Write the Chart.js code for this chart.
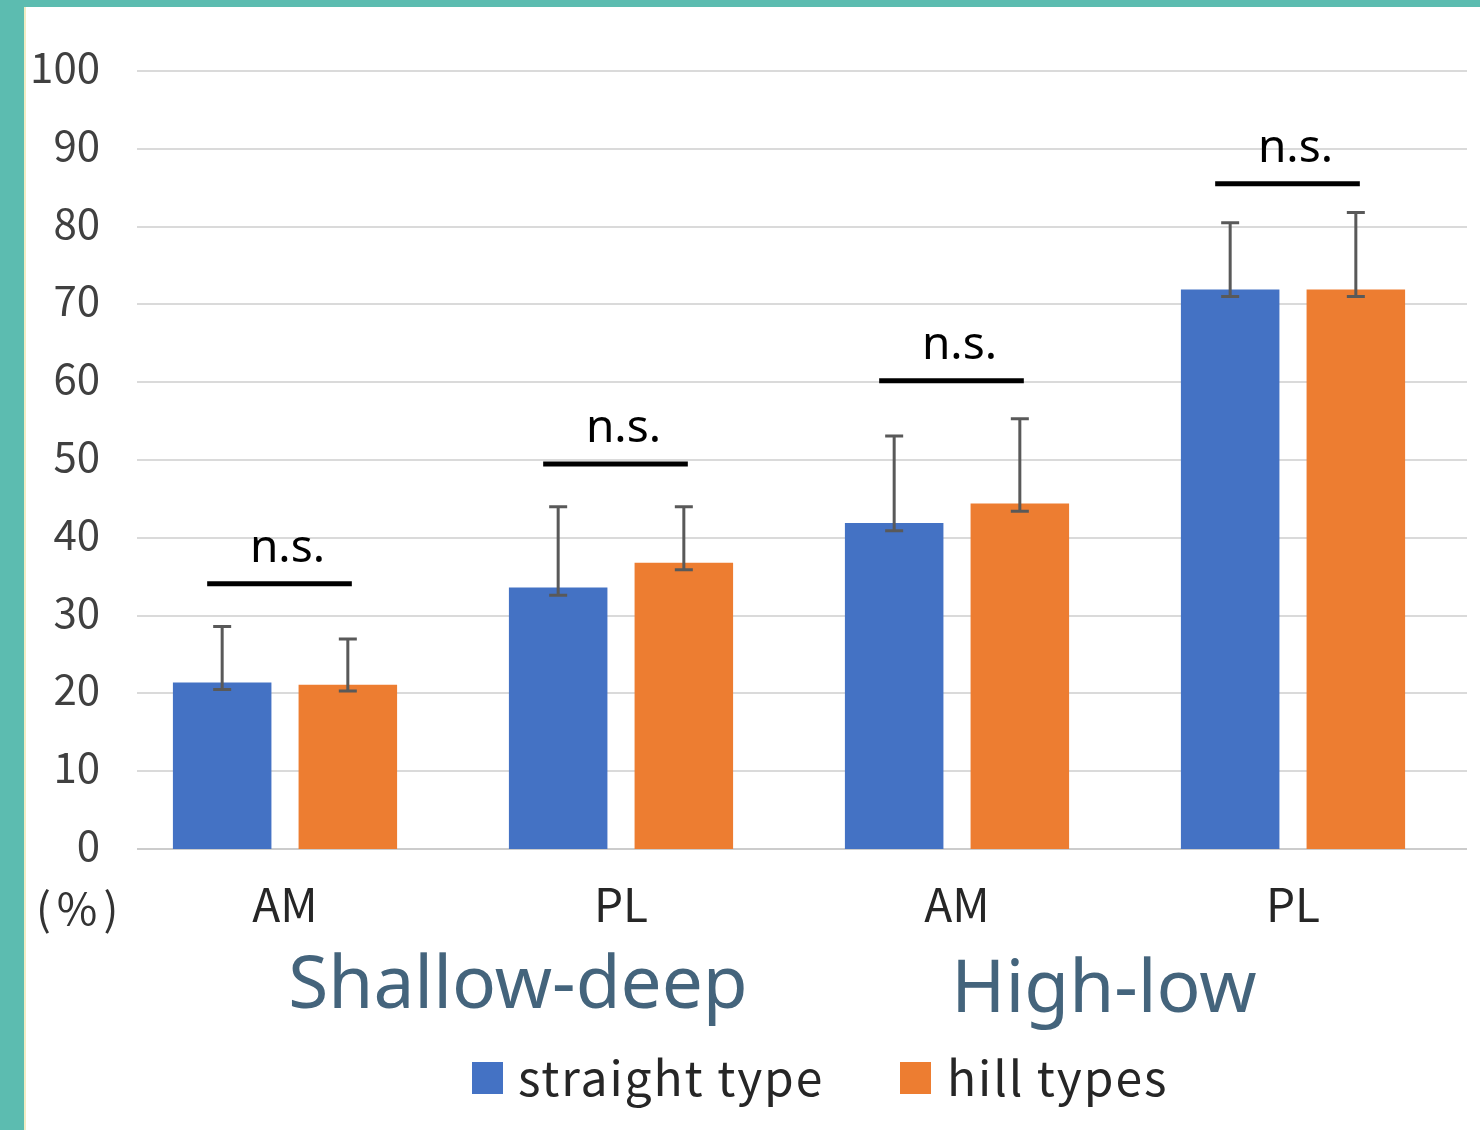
<!DOCTYPE html>
<html>
<head>
<meta charset="utf-8">
<script src="https://cdn.jsdelivr.net/npm/chart.js@4.4.1/dist/chart.umd.min.js"></script>
<style>
body{margin:0;width:1480px;height:1130px;background:#5cbcb0;position:relative;overflow:hidden;font-family:"Noto Sans CJK JP","Noto Sans",sans-serif;}
#panel{position:absolute;left:24px;top:7px;right:0;bottom:0;background:#fff;border-left:2px solid #f1ecc4;}
#wrap{position:absolute;left:0;top:0;width:1480px;height:1130px;}
.lbl{position:absolute;white-space:nowrap;line-height:1;}
.grp{font-family:"Noto Sans",sans-serif;font-size:73px;color:#44647c;transform:translateX(-50%);}
.leg{font-size:48px;color:#262626;letter-spacing:1.9px;}
.sw{position:absolute;width:31px;height:32px;}
</style>
</head>
<body>
<div id="panel"></div>
<div id="wrap"><canvas id="chart" width="1480" height="1130"></canvas></div>
<div class="lbl" style="left:36px;top:884px;font-size:44px;color:#333;letter-spacing:6px;">(%)</div>
<div class="lbl grp" style="left:518px;top:943px;">Shallow-deep</div>
<div class="lbl grp" style="left:1104px;top:947px;">High-low</div>
<div class="sw" style="left:472px;top:1062px;background:#4472c4;"></div>
<div class="lbl leg" style="left:518px;top:1051px;">straight type</div>
<div class="sw" style="left:900px;top:1062px;background:#ed7d31;"></div>
<div class="lbl leg" style="left:947px;top:1051px;">hill types</div>
<script>
// data
let categories = ["AM", "PL", "AM", "PL"];
let straightValues = [21.4, 33.6, 41.9, 71.9];
let straightErrUp = [7.2, 10.4, 11.2, 8.6];
let straightErrDown = [0.9, 1.0, 1.0, 0.9];
let hillValues = [21.1, 36.8, 44.4, 71.9];
let hillErrUp = [5.9, 7.2, 10.9, 9.9];
let hillErrDown = [0.8, 0.9, 1.0, 0.9];
let sigLevels = [34.1, 49.5, 60.2, 85.5];
let sigLabels = ["n.s.", "n.s.", "n.s.", "n.s."];
let yTicks = [0, 10, 20, 30, 40, 50, 60, 70, 80, 90, 100];

// grey gridlines, starting a bit right of the axis
let gridPlugin = {
id: "gridLines",
beforeDatasetsDraw: function(chart){
let ctx = chart.ctx;
let y = chart.scales.y;
let area = chart.chartArea;
ctx.save();
ctx.lineWidth = 2;
y.ticks.forEach(function(t){
let yy = Math.round(y.getPixelForValue(t.value));
ctx.strokeStyle = t.value === 0 ? "#cccccc" : "#dadada";
ctx.beginPath();
ctx.moveTo(area.left + 20, yy);
ctx.lineTo(area.right + 6, yy);
ctx.stroke();
});
ctx.restore();
}
};

// error bars + n.s. brackets
let errPlugin = {
id: "errBars",
afterDatasetsDraw: function(chart){
let ctx = chart.ctx;
let y = chart.scales.y;
let sets = [
[straightValues, straightErrUp, straightErrDown],
[hillValues, hillErrUp, hillErrDown]
];
ctx.save();
ctx.strokeStyle = "#595959";
ctx.lineWidth = 3;
sets.forEach(function(s, di){
chart.getDatasetMeta(di).data.forEach(function(bar, i){
let top = y.getPixelForValue(s[0][i] + s[1][i]);
let bot = y.getPixelForValue(s[0][i] - s[2][i]);
ctx.beginPath();
ctx.moveTo(bar.x, top); ctx.lineTo(bar.x, bot);
ctx.moveTo(bar.x - 9, top); ctx.lineTo(bar.x + 9, top);
ctx.moveTo(bar.x - 9, bot); ctx.lineTo(bar.x + 9, bot);
ctx.stroke();
});
});

let m0 = chart.getDatasetMeta(0).data;
let m1 = chart.getDatasetMeta(1).data;
ctx.strokeStyle = "#000";
ctx.fillStyle = "#000";
ctx.lineWidth = 5;
ctx.font = '46px "Noto Sans"';
ctx.textAlign = "center";
ctx.textBaseline = "alphabetic";
sigLevels.forEach(function(v, i){
let yy = y.getPixelForValue(v);
let x0 = m0[i].x - 15;
let x1 = m1[i].x + 4;
ctx.beginPath();
ctx.moveTo(x0, yy); ctx.lineTo(x1, yy);
ctx.stroke();
ctx.fillText(sigLabels[i], (x0 + x1) / 2 + 8, yy - 22);
});
ctx.restore();
}
};

new Chart(document.getElementById("chart"), {
type: "bar",
data: {
labels: categories,
datasets: [
{ label: "straight type", data: straightValues, backgroundColor: "#4472c4" },
{ label: "hill types", data: hillValues, backgroundColor: "#ed7d31" }
]
},
options: {
responsive: false,
animation: false,
categoryPercentage: 0.748,
barPercentage: 0.784,
layout: { padding: { left: 0, right: 19, top: 71, bottom: 191 } },
plugins: { legend: { display: false }, tooltip: { enabled: false } },
scales: {
x: {
grid: { display: false, drawTicks: false },
border: { display: false },
ticks: { color: "#262626", padding: 28, font: { family: '"Noto Sans CJK JP"', size: 46 } },
afterFit: function(s){ s.height = 90; }
},
y: {
min: 0,
max: 100,
grid: { display: false, drawTicks: false },
border: { display: false },
ticks: { color: "#404040", padding: 17, labelOffset: -4, font: { family: '"Noto Sans CJK JP"', size: 42 } },
afterBuildTicks: function(s){ s.ticks = yTicks.map(function(v){ return { value: v }; }); },
afterFit: function(s){ s.width = 117; }
}
}
},
plugins: [gridPlugin, errPlugin]
});
</script>
</body>
</html>
